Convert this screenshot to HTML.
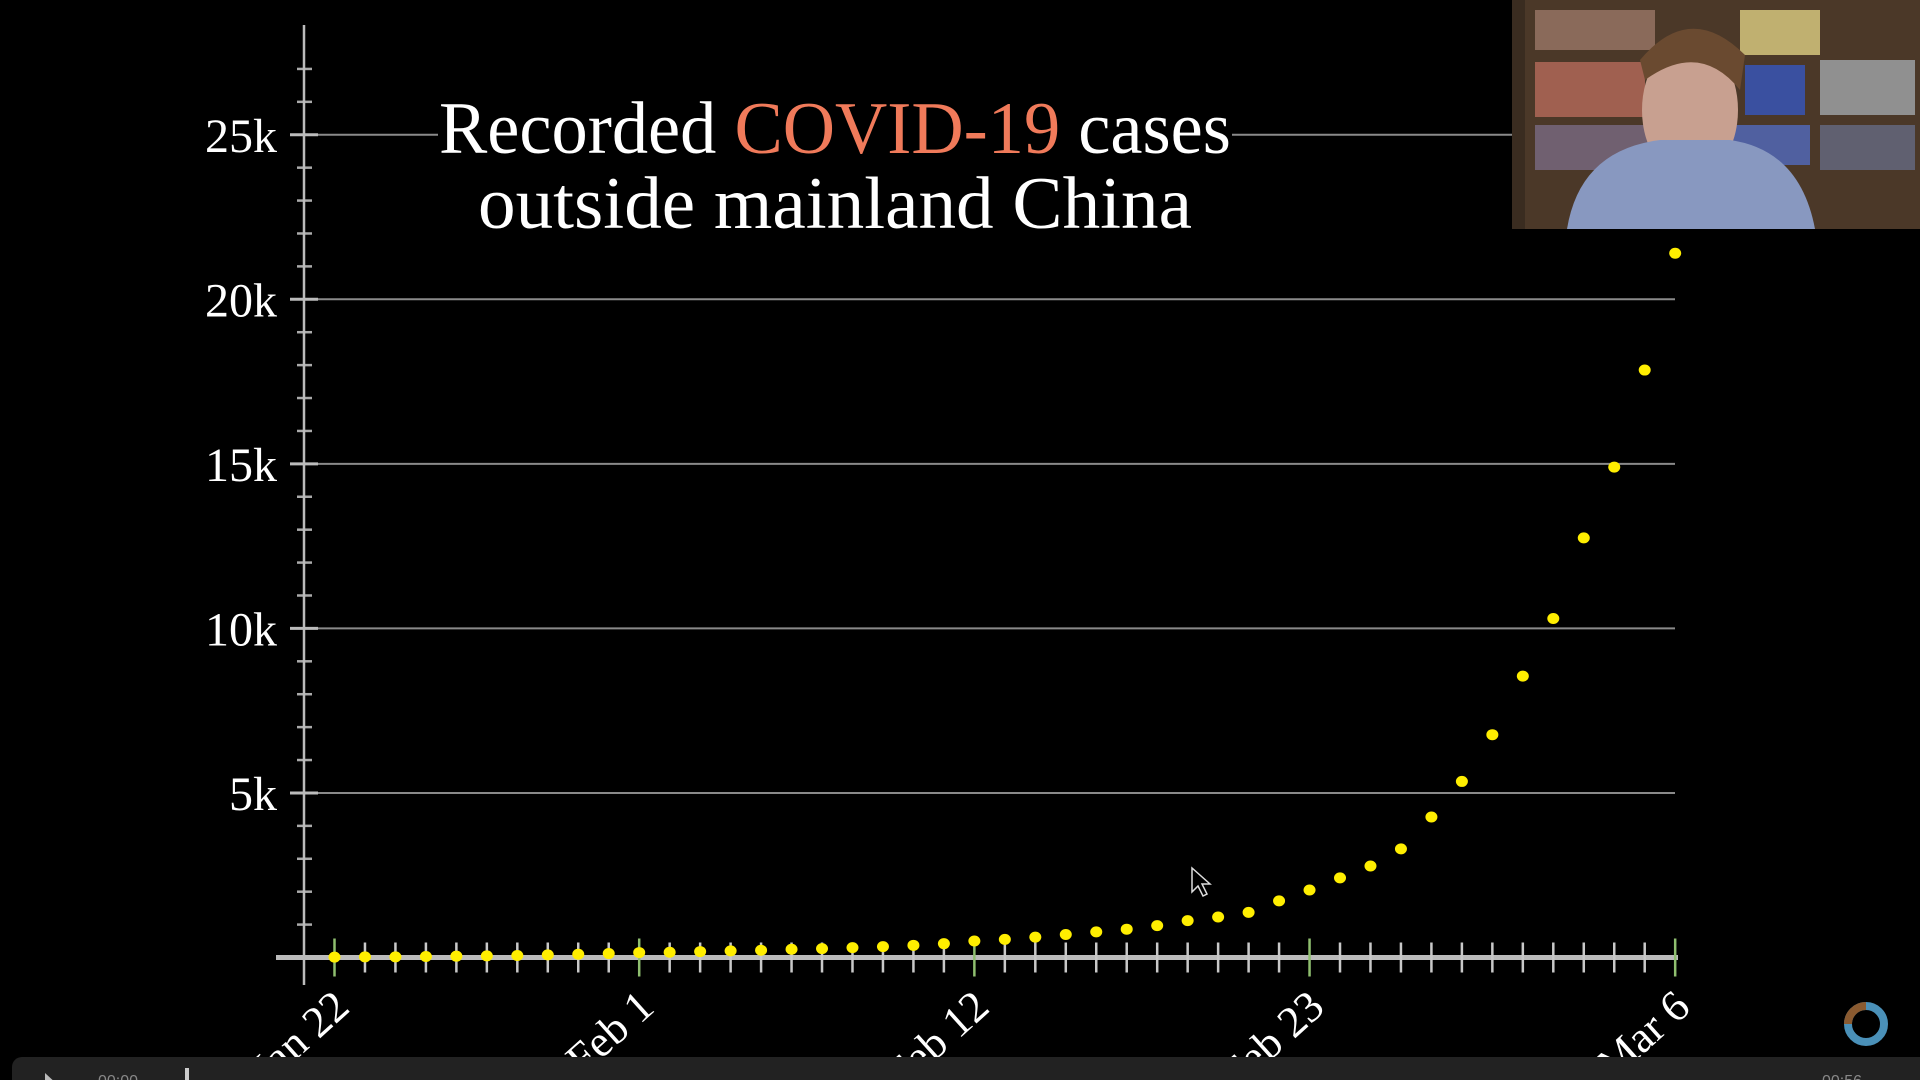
<!DOCTYPE html>
<html><head><meta charset="utf-8">
<style>
html,body{margin:0;padding:0;background:#000;width:1920px;height:1080px;overflow:hidden}
svg{display:block}
.t{font-family:"Liberation Serif",serif;fill:#fff}
</style></head>
<body>
<svg id="chart" width="1920" height="1080" viewBox="0 0 1920 1080">
  <g id="grid"></g>
  <g id="yaxis"></g>
  <g id="xaxis"></g>
  <g id="dots"></g>
  <g>
    <rect x="438" y="82" width="794" height="172" fill="#000"/>
    <text class="t" x="835" y="153" font-size="74" text-anchor="middle" textLength="792" lengthAdjust="spacingAndGlyphs">Recorded <tspan fill="#F07A5A">COVID-19</tspan> cases</text>
    <text class="t" x="835" y="228" font-size="74" text-anchor="middle" textLength="714" lengthAdjust="spacingAndGlyphs">outside mainland China</text>
  </g>
  <g>
    <rect x="1512" y="0" width="408" height="229" fill="#3a2c20"/>
    <rect x="1525" y="0" width="395" height="229" fill="#4b3828"/>
    <rect x="1535" y="10" width="120" height="40" fill="#8a6a5a"/>
    <rect x="1535" y="62" width="110" height="55" fill="#a06050"/>
    <rect x="1535" y="125" width="120" height="45" fill="#706070"/>
    <rect x="1740" y="10" width="80" height="45" fill="#c0b070"/>
    <rect x="1820" y="60" width="95" height="55" fill="#909090"/>
    <rect x="1820" y="125" width="95" height="45" fill="#606070"/>
    <rect x="1745" y="65" width="60" height="50" fill="#3a50a0"/>
    <rect x="1730" y="125" width="80" height="40" fill="#5060a0"/>
    <ellipse cx="1690" cy="110" rx="48" ry="70" fill="#c8a090"/>
    <path d="M1640 60 Q1690 0 1745 55 L1740 90 Q1700 40 1645 80 Z" fill="#6a4a30"/>
    <path d="M1567 229 Q1580 150 1660 140 L1730 140 Q1800 150 1815 229 Z" fill="#8898c0"/>
  </g>
  <g>
    <path d="M1192 868 L1192 892 L1198 886 L1203 896 L1207 894 L1202 884 L1210 884 Z" fill="#000" stroke="#ddd" stroke-width="1.5"/>
  </g>
  <g>
    <circle cx="1866" cy="1024" r="18" fill="none" stroke="#4a90b8" stroke-width="8"/>
    <path d="M1848 1024 A18 18 0 0 1 1866 1006" fill="none" stroke="#8a5a30" stroke-width="8"/>
  </g>
  <g>
    <rect x="12" y="1057" width="1920" height="40" rx="10" fill="#222"/>
    <path d="M45 1073 L45 1085 L58 1085 Z" fill="#bbb"/>
    <text x="98" y="1086" font-family="Liberation Sans,sans-serif" font-size="16" fill="#888">00:00</text>
    <rect x="185" y="1068" width="4" height="20" fill="#ccc"/>
    <text x="1822" y="1086" font-family="Liberation Sans,sans-serif" font-size="16" fill="#888">00:56</text>
  </g>
</svg>
<script>
const categories = [];
for (let i = 0; i <= 44; i++) categories.push(i);
const cases = [0.01,0.02,0.02,0.03,0.04,0.05,0.06,0.08,0.10,0.12,0.15,0.16,0.18,0.20,0.22,0.25,0.27,0.30,0.33,0.37,0.42,0.50,0.55,0.62,0.70,0.78,0.86,0.97,1.12,1.23,1.37,1.72,2.05,2.42,2.78,3.30,4.27,5.35,6.77,8.55,10.3,12.75,14.9,17.85,21.4];
const yTicks = [5,10,15,20,25];
const yTickLabels = ["5k","10k","15k","20k","25k"];
const majorDays = [0,10,21,32,44];
const dateLabels = ["Jan 22","Feb 1","Feb 12","Feb 23","Mar 6"];

const NS = "http://www.w3.org/2000/svg";
const X0 = 334.5, DX = 30.47, Y0 = 957.5, PERK = 32.91;
function xs(d){ return X0 + d*DX; }
function ys(v){ return Y0 - v*PERK; }
function mk(tag, attrs, parent){
  const e = document.createElementNS(NS, tag);
  for (const k in attrs) e.setAttribute(k, attrs[k]);
  parent.appendChild(e);
  return e;
}
const grid = document.getElementById('grid');
const yaxis = document.getElementById('yaxis');
const xaxis = document.getElementById('xaxis');
const dots = document.getElementById('dots');
const AX = 304;

yTicks.forEach((v, i) => {
  const gl = mk('line', {x1: AX, x2: 1675, y1: ys(v), y2: ys(v), stroke: '#8a8a8a', 'stroke-width': 2}, grid);
  
  
  const tk = mk('line', {x1: AX-14, x2: AX+14, y1: ys(v), y2: ys(v), stroke: '#bbb', 'stroke-width': 3}, yaxis);
  
  
  const lb = mk('text', {x: 277, y: ys(v) + 17, 'font-size': 48, 'text-anchor': 'end', class: 't'}, yaxis);
  lb.textContent = yTickLabels[i];
  
  
});
for (let k = 1; k <= 27; k++) {
  if (k % 5 === 0) continue;
  const mt = mk('line', {x1: AX-7, x2: AX+8, y1: ys(k), y2: ys(k), stroke: '#aaa', 'stroke-width': 2.5}, yaxis);
  
  
}
const yl = mk('line', {x1: AX, x2: AX, y1: 25, y2: 985, stroke: '#bbb', 'stroke-width': 2.5}, yaxis);



const xl = mk('line', {x1: 276, x2: 1678, y1: Y0, y2: Y0, stroke: '#bbb', 'stroke-width': 5}, xaxis);


categories.forEach(d => {
  const major = majorDays.indexOf(d) >= 0;
  const t = mk('line', {x1: xs(d), x2: xs(d), y1: major ? Y0-19 : Y0-15, y2: major ? Y0+19 : Y0+15,
    stroke: major ? '#8fbf6f' : '#c8c8c8', 'stroke-width': 2.5}, xaxis);
  
  
});
majorDays.forEach((d, i) => {
  const lx = xs(d) + 17, ly = 1010;
  const lb = mk('text', {x: lx, y: ly, 'font-size': 44, 'text-anchor': 'end', class: 't',
    transform: 'rotate(-42 ' + lx + ' ' + ly + ')'}, xaxis);
  lb.textContent = dateLabels[i];
  
  
});

cases.forEach((v, i) => {
  const c = mk('ellipse', {cx: xs(categories[i]), cy: ys(v), rx: 6, ry: 5.5, fill: '#ffee00'}, dots);
  
  
});
</script>
</body></html>
